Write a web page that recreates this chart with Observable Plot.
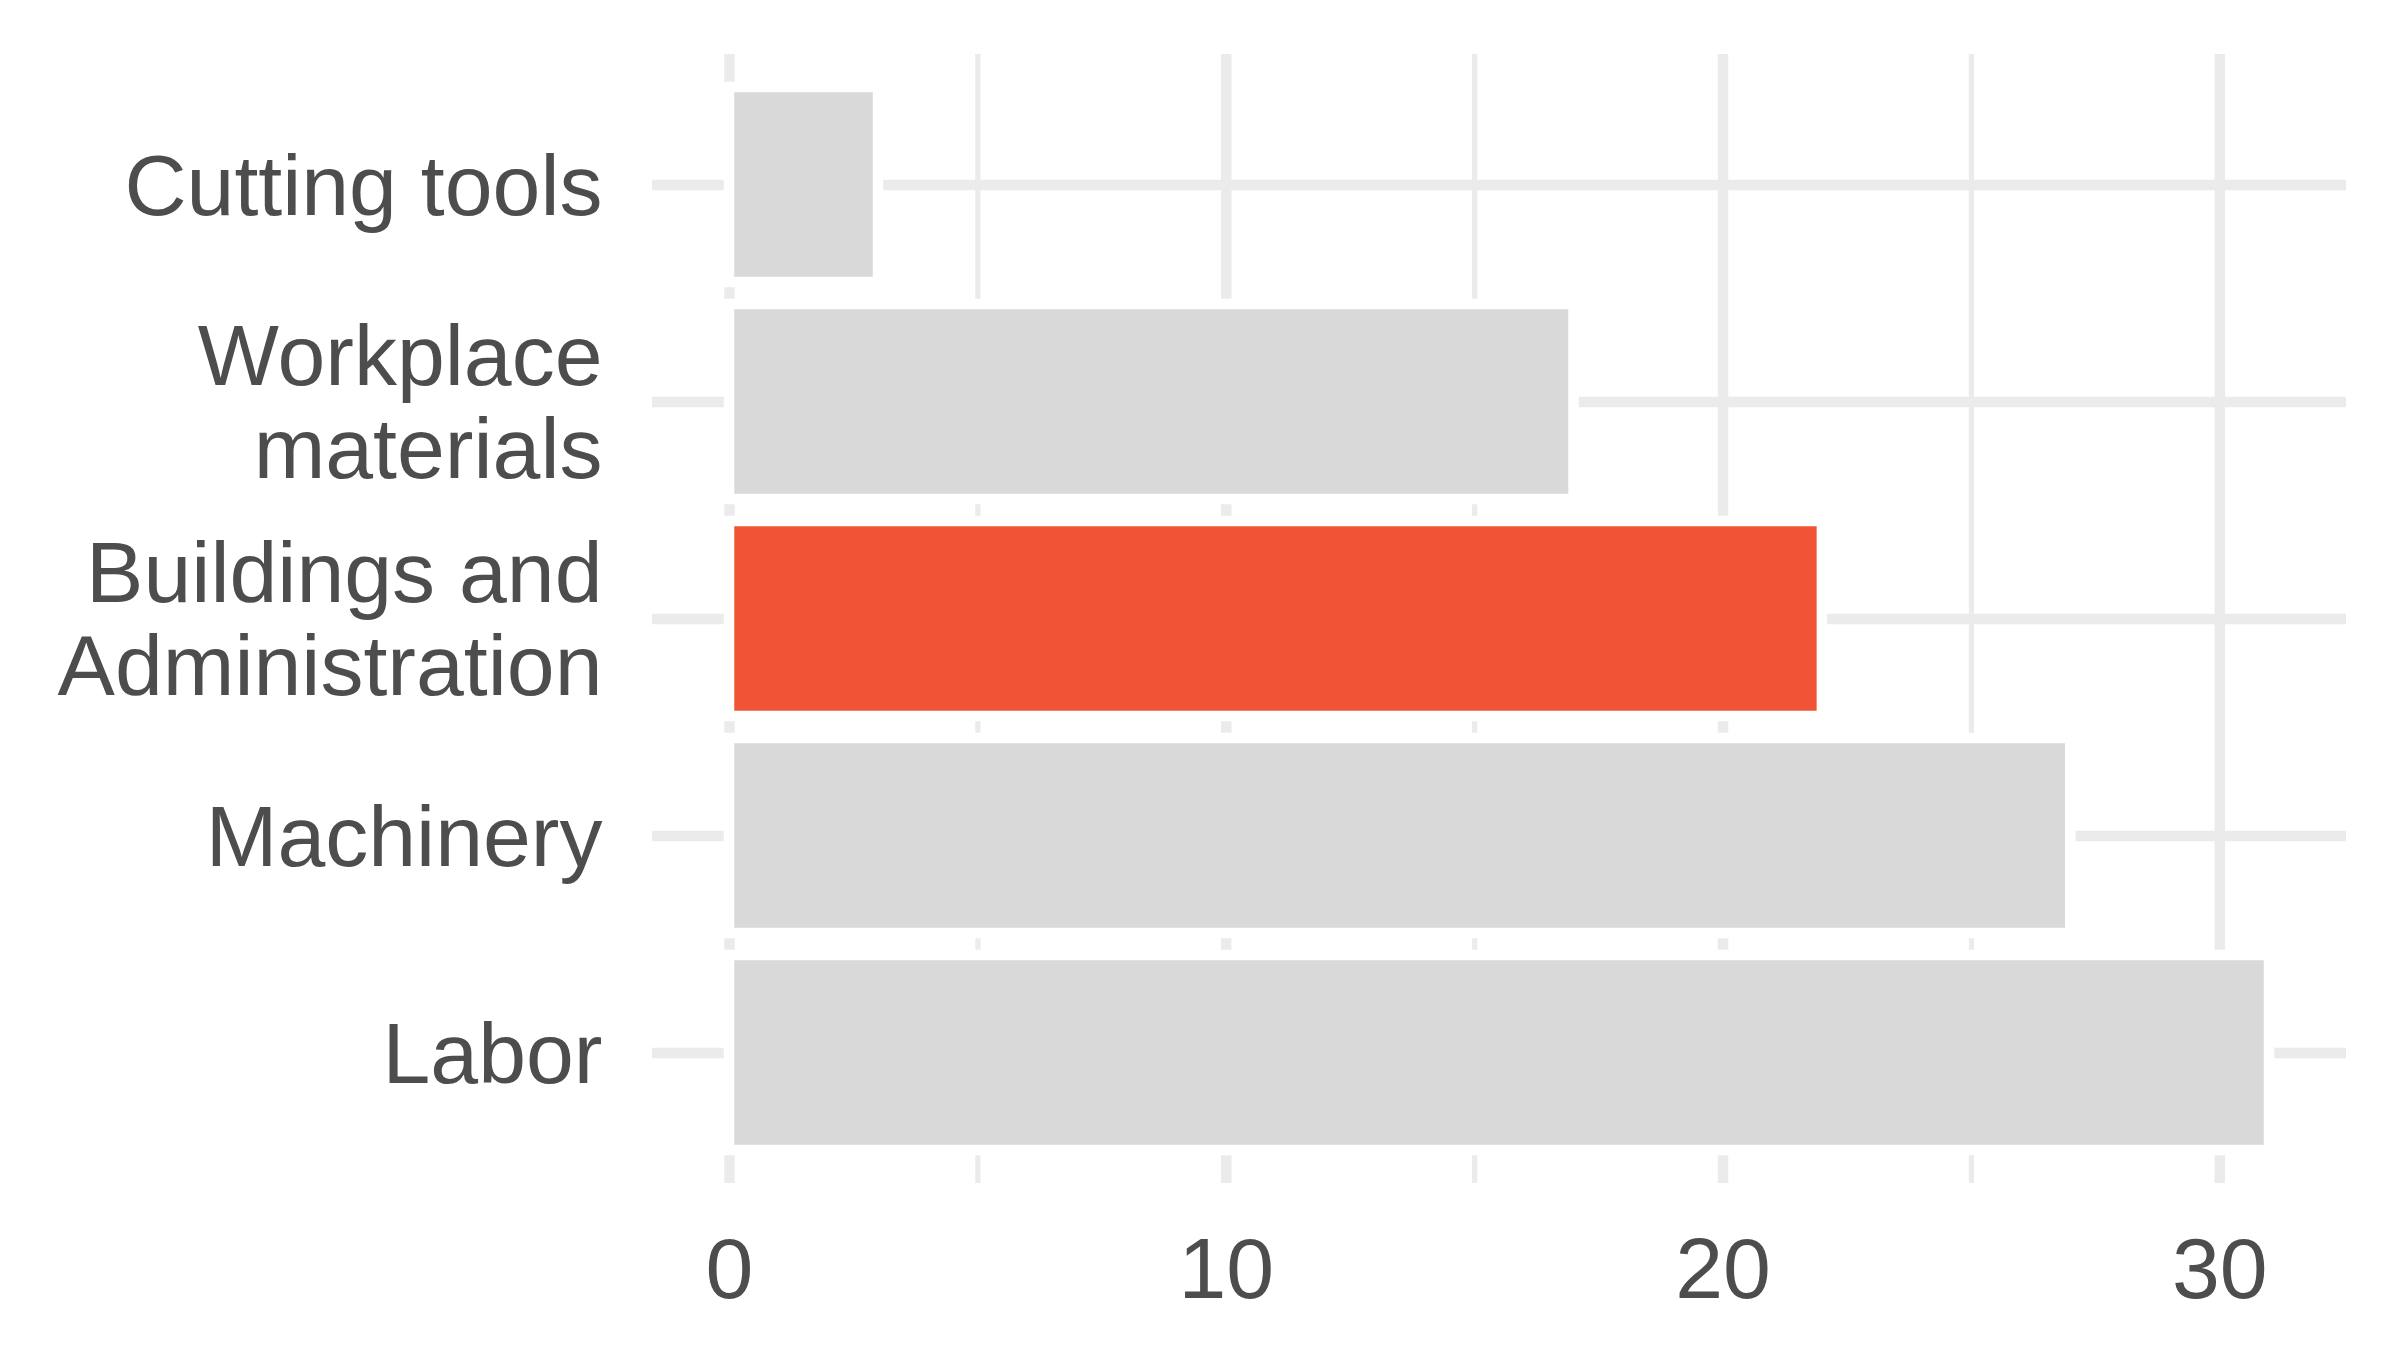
<!DOCTYPE html>
<html>
<head>
<meta charset="utf-8">
<script src="https://cdn.jsdelivr.net/npm/d3@7"></script>
<script src="https://cdn.jsdelivr.net/npm/@observablehq/plot@0.6"></script>
<style>
  html, body { margin: 0; padding: 0; background: #ffffff; }
  #chart { width: 2400px; height: 1367px; }
</style>
</head>
<body>
<div id="chart"></div>
<script>
// Data (top to bottom as shown)
const categories = ["Cutting tools", "Workplace materials", "Buildings and Administration", "Machinery", "Labor"];
const categoryLabels = ["Cutting tools", "Workplace\nmaterials", "Buildings and\nAdministration", "Machinery", "Labor"];
const values = [3, 17, 22, 27, 31];
const highlighted = "Buildings and Administration";
const xTicks = [0, 10, 20, 30];
const xMinorTicks = [5, 15, 25];

const rows = categories.map((c, i) => ({name: c, value: values[i]}));

const W = 2400, H = 1367;
const grid = "#EBEBEB";

const chart = Plot.plot({
  width: W,
  height: H,
  marginLeft: 652,
  marginRight: 54,
  marginTop: 54,
  marginBottom: 184,
  style: {
    fontFamily: "'Liberation Sans', Arial, Helvetica, sans-serif",
    fontSize: "86px",
    color: "#4D4D4D",
    background: "#ffffff"
  },
  x: {domain: [-1.55, 32.55], label: null},
  y: {type: "band", domain: categories, paddingInner: 0.1, paddingOuter: 0.15, label: null},
  marks: [
    Plot.ruleY(categories, {y: d => d, stroke: grid, strokeWidth: 10.5}),
    Plot.ruleX(xMinorTicks, {x: d => d, stroke: grid, strokeWidth: 5.2}),
    Plot.ruleX(xTicks, {x: d => d, stroke: grid, strokeWidth: 10.5}),
    Plot.barX(rows.filter(d => d.name !== highlighted), {x: "value", y: "name", fill: "#D9D9D9", stroke: "#ffffff", strokeWidth: 10.5}),
    Plot.barX(rows.filter(d => d.name === highlighted), {x: "value", y: "name", fill: "#F05336", stroke: "#ffffff", strokeWidth: 10.5}),
    Plot.axisX({ticks: xTicks, tickSize: 0, tickPadding: 53, label: null, fontSize: 86}),
    Plot.axisY({tickSize: 0, tickPadding: 50, label: null, fontSize: 86, lineHeight: 1.08,
      tickFormat: d => categoryLabels[categories.indexOf(d)]})
  ]
});

document.getElementById("chart").appendChild(chart);
</script>
</body>
</html>
